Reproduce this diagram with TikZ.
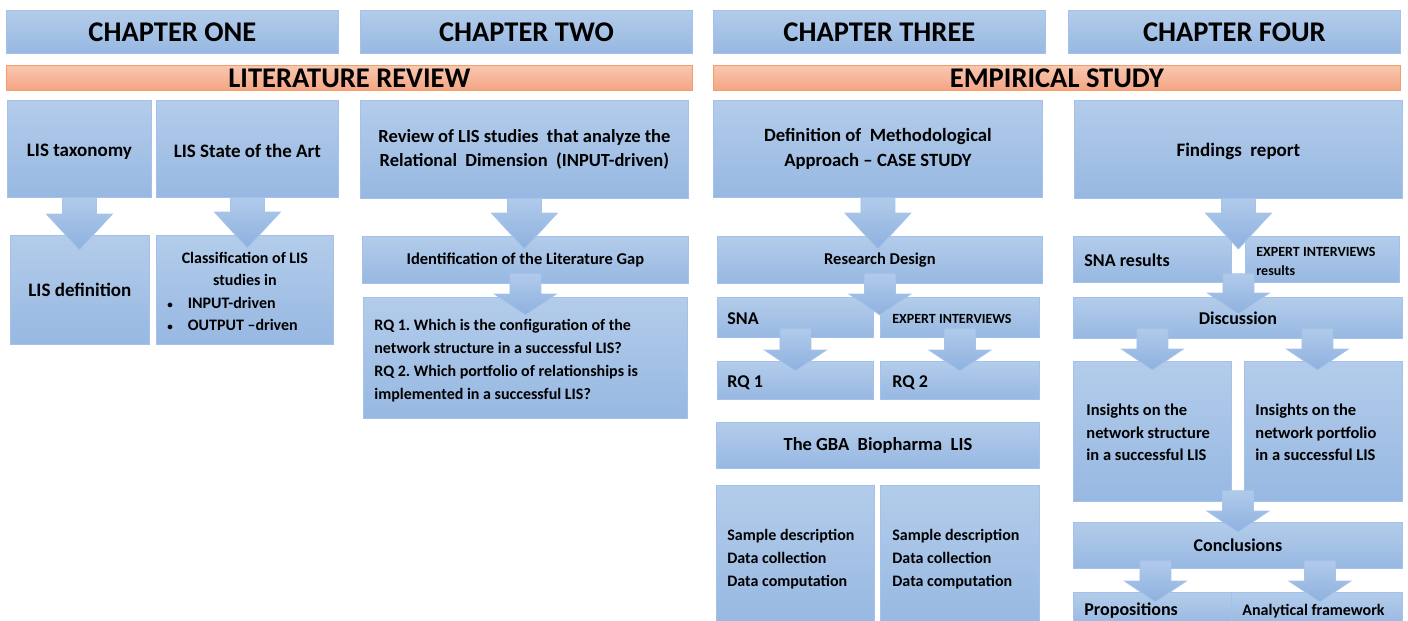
\documentclass[tikz,border=0pt]{standalone}
\usepackage{fontspec}
\setmainfont{Carlito}
\usetikzlibrary{calc}

\definecolor{boxtop}{HTML}{B3CCEA}
\definecolor{boxbot}{HTML}{97B8E2}
\definecolor{boxline}{HTML}{A3C1EA}
\definecolor{arrtop}{HTML}{B0CAEA}
\definecolor{arrbot}{HTML}{8EB1DF}
\definecolor{arrline}{HTML}{A6C3EB}
\definecolor{ortop}{HTML}{F8C7B0}
\definecolor{orbot}{HTML}{F4A583}
\definecolor{orline}{HTML}{F29E68}

% bold Carlito at a given size / leading
\newcommand\fsz[2]{\fontsize{#1}{#2}\selectfont\bfseries\frenchspacing}
% small list bullet
\newcommand\lbul{{\fontsize{11}{11}\selectfont\textbullet}}
% lower a text a little while keeping its box size
\newcommand\low[1]{\raisebox{-2.5pt}[\height][\depth]{#1}}

% \card[opts]{name}{x1}{y1}{x2}{y2}{text}: box with centred text
\newcommand\card[7][]{%
  \pgfmathsetmacro\cw{#5-#3}\pgfmathsetmacro\ch{#6-#4}%
  \node[card, minimum width=\cw pt, minimum height=\ch pt, #1] (#2) at (#3,#4) {#7};}

% \lcard[opts]{name}{x1}{y1}{x2}{y2}{left pad}{lines}: box with left-aligned lines
\newcommand\lcard[8][]{%
  \pgfmathsetmacro\cw{#5-#3}\pgfmathsetmacro\ch{#6-#4}%
  \node[card, minimum width=\cw pt, minimum height=\ch pt, #1] (#2) at (#3,#4)
    {\makebox[\cw pt][l]{\hspace*{#7pt}\low{\begin{tabular}{@{}l@{}}#8\end{tabular}}}};}

% \blockarrow{start}{tip}{shaft half width}{head half width}{head length}
\newcommand\blockarrow[5]{%
  \path[arrowbody] let \p1=#1, \p2=#2 in
    (\x1-#3pt,\y1) -- (\x1+#3pt,\y1) -- (\x1+#3pt,\y2+#5pt) -- (\x1+#4pt,\y2+#5pt)
    -- (\x1,\y2) -- (\x1-#4pt,\y2+#5pt) -- (\x1-#3pt,\y2+#5pt) -- cycle;}
\newcommand\bigarrow[2]{\blockarrow{#1}{#2}{17}{33}{36}}
\newcommand\smallarrow[2]{\blockarrow{#1}{#2}{15.5}{31}{21}}

\begin{document}
\begin{tikzpicture}[x=1pt,y=-1pt,
  card/.style={draw=boxline, line width=0.8pt, top color=boxtop, bottom color=boxbot,
               inner sep=0pt, anchor=north west, text=black},
  band/.style={draw=orline, top color=ortop, bottom color=orbot},
  arrowbody/.style={draw=arrline, line width=0.8pt, top color=arrtop, bottom color=arrbot,
                    line join=miter}]
\useasboundingbox (0,0) rectangle (1408,621);
\clip (0,0) rectangle (1408,621);

% chapter headings
\card[font=\fsz{28.5}{30}]{c1}{6}{10}{338}{53}{CHAPTER ONE}
\card[font=\fsz{28.5}{30}]{c2}{360}{10}{692}{53}{CHAPTER TWO}
\card[font=\fsz{28.5}{30}]{c3}{713}{10}{1045}{53}{CHAPTER THREE}
\card[font=\fsz{28.5}{30}]{c4}{1068}{10}{1400}{53}{CHAPTER FOUR}

% part bands
\card[band, font=\fsz{28.5}{28}]{lit}{6}{65}{692}{90}{LITERATURE REVIEW}
\card[band, font=\fsz{28.5}{28}]{emp}{713}{65}{1400}{90}{EMPIRICAL STUDY}

% chapter one
\card[font=\fsz{19}{23}]{tax}{7}{100}{151}{197}{\low{LIS taxonomy}}
\card[font=\fsz{19}{23}]{sota}{156}{100}{338}{197}{\low{LIS State of the Art}}
\card[font=\fsz{19}{23}]{def}{10}{235}{149}{344}{LIS definition}
\card[font=\fsz{16}{22.5}]{cls}{156}{235}{333}{344}{\low{%
  \begin{tabular}{@{}l@{}}
  \makebox[\cw pt]{Classification of LIS}\\
  \makebox[\cw pt]{studies in}\\
  \hspace*{11pt}\lbul\hspace{15pt}INPUT-driven\\
  \hspace*{11pt}\lbul\hspace{15pt}OUTPUT –driven
  \end{tabular}}}

% chapter two
\card[font=\fsz{18.5}{24}, align=center]{rev}{360}{100}{688}{198}{Review of LIS studies\ \ that analyze the\\Relational\ \ Dimension\ \ (INPUT-driven)}
\card[font=\fsz{16.5}{18}]{gap}{362}{236}{688}{283}{Identification of the Literature Gap}
\lcard[font=\fsz{16}{23}]{rq}{363}{297}{687}{418}{11}{RQ 1. Which is the configuration of the\\
  network structure in a successful LIS?\\
  RQ 2. Which portfolio of relationships is\\
  implemented in a successful LIS?}

% chapter three
\card[font=\fsz{18.7}{25}, align=center]{meth}{713}{100}{1042}{197}{Definition of\ \ Methodological\\Approach – CASE STUDY}
\card[font=\fsz{16.5}{18}]{rd}{717}{236}{1042}{283}{Research Design}
\lcard[font=\fsz{18}{22}]{sna}{717}{297}{873}{337}{10}{SNA}
\lcard[font=\fsz{14}{16}]{exp}{880}{297}{1039}{337}{12}{EXPERT INTERVIEWS}
\lcard[font=\fsz{18}{22}]{rq1}{717}{361}{873}{399}{10}{RQ 1}
\lcard[font=\fsz{18}{22}]{rq2}{880}{361}{1039}{399}{12}{RQ 2}
\card[font=\fsz{18.5}{22}]{gba}{716}{422}{1039}{468}{The GBA\ \ Biopharma\ \ LIS}
\lcard[font=\fsz{16}{23}]{smpl}{716}{485}{874}{626}{11}{Sample description\\Data collection\\Data computation}
\lcard[font=\fsz{16}{23}]{smpr}{880}{485}{1039}{626}{12}{Sample description\\Data collection\\Data computation}

% chapter four
\card[font=\fsz{19}{23}]{find}{1074}{100}{1402}{198}{\low{Findings\ \ report}}
\lcard[font=\fsz{18}{22}]{snar}{1073}{236}{1231}{282}{11}{SNA results}
\lcard[font=\fsz{14}{19}]{expr}{1245}{236}{1399}{282}{11}{EXPERT INTERVIEWS\\results}
\card[font=\fsz{18}{22}]{disc}{1073}{297}{1402}{338}{Discussion}
\lcard[font=\fsz{16.5}{22.5}]{insl}{1073}{361}{1231}{501}{13}{Insights on the\\network structure\\in a successful LIS}
\lcard[font=\fsz{16.5}{22.5}]{insr}{1244}{361}{1402}{501}{11}{Insights on the\\network portfolio\\in a successful LIS}
\card[font=\fsz{18}{22}]{conc}{1073}{522}{1402}{568}{Conclusions}
\lcard[font=\fsz{18}{20}]{prop}{1073}{592}{1231}{626}{11}{Propositions}
\lcard[font=\fsz{16}{18}]{anfw}{1231}{592}{1402}{626}{11}{Analytical framework}

% block arrows
\bigarrow{(tax.south)}{([yshift=-15pt]def.north)}
\bigarrow{(sota.south)}{([yshift=-13pt]cls.north)}
\bigarrow{(rev.south)}{([yshift=-13pt]gap.north)}
\smallarrow{([yshift=10pt]gap.south)}{([yshift=-18pt]rq.north)}
\bigarrow{(meth.south)}{([yshift=-13pt]rd.north)}
\smallarrow{([yshift=10pt]rd.south)}{($(sna.north east)!.5!(exp.north west)+(0pt,-18pt)$)}
\smallarrow{([yshift=9pt]sna.south)}{([yshift=-10pt]rq1.north)}
\smallarrow{([yshift=9pt]exp.south)}{([yshift=-10pt]rq2.north)}
\bigarrow{(find.south)}{($(snar.north east)!.5!(expr.north west)+(0pt,-13pt)$)}
\smallarrow{($(snar.south east)!.5!(expr.south west)+(0pt,9pt)$)}{([yshift=-17pt]disc.north)}
\smallarrow{($(disc.south -| insl.north)+(0pt,10pt)$)}{([yshift=-9pt]insl.north)}
\smallarrow{($(disc.south -| insr.north)+(-6pt,10pt)$)}{([yshift=-9pt]insr.north)}
\smallarrow{($(insl.south east)!.5!(insr.south west)+(0pt,11pt)$)}{([yshift=-10pt]conc.north)}
\smallarrow{($(conc.south -| prop.north)+(3pt,8pt)$)}{([yshift=-10pt]prop.north)}
\smallarrow{($(conc.south -| anfw.north)+(3pt,8pt)$)}{([yshift=-10pt]anfw.north)}
\end{tikzpicture}
\end{document}
